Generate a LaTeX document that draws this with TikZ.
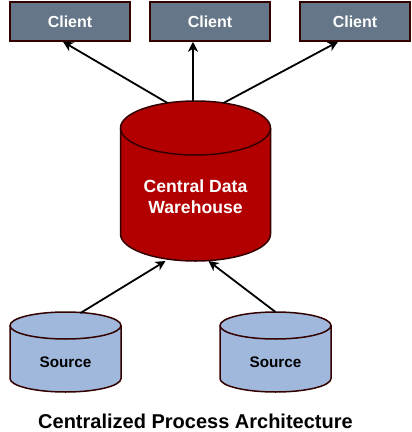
\documentclass[tikz,border=0pt]{standalone}
\usepackage{fontspec}
\setmainfont{Liberation Sans}
\usetikzlibrary{positioning, arrows.meta}
\definecolor{clientfill}{HTML}{647687}
\definecolor{darkline}{HTML}{330000}
\definecolor{dwfill}{HTML}{B20000}
\definecolor{srcfill}{HTML}{A0B8DC}
% drum: node name, y radius, x radius, fill
\newcommand{\drum}[4]{%
  \filldraw[fill=#4, draw=darkline, line width=1.5pt]
    ([yshift=-#2]#1.north west) -- ([yshift=#2]#1.south west)
    arc[start angle=180, end angle=360, x radius=#3, y radius=#2]
    -- ([yshift=-#2]#1.north east)
    arc[start angle=0, end angle=180, x radius=#3, y radius=#2] -- cycle;
  \draw[darkline, line width=1.5pt] ([yshift=-#2]#1.north west)
    arc[start angle=180, end angle=360, x radius=#3, y radius=#2];
}

\begin{document}
\begin{tikzpicture}[x=1pt, y=-1pt,
  client/.style={draw=darkline, fill=clientfill, line width=1.5pt, minimum width=120pt, minimum height=39pt, inner sep=0pt, text=white, font=\fontsize{16}{19}\selectfont\bfseries},
  db/.style={inner sep=0pt, outer sep=0pt},
  dbtext/.style={font=\bfseries, align=center, inner sep=0pt},
  link/.style={-{Stealth[length=10pt, width=10pt, inset=3pt]}, line width=1.8pt}]

\useasboundingbox (0,0) rectangle (412,432);

% clients on top
\node[client] (c0) at (70,21.5) {Client};
\node[client, right=18.5pt of c0] (c1) {Client};
\node[client, minimum width=110pt, right=28.5pt of c1] (c2) {Client};

% the warehouse
\node[db, minimum width=150pt, minimum height=160pt] (w0) at (195.5,181) {};
\drum{w0}{27pt}{75pt}{dwfill}
\node[dbtext, text=white, font=\fontsize{17.6}{21}\selectfont\bfseries] (l0) at ([yshift=-15.5pt]w0.center) {Central Data\\Warehouse};

% sources
\node[db, minimum width=111pt, minimum height=80pt] (s0) at (65.5,352) {};
\node[db, minimum width=111pt, minimum height=80pt, right=99pt of s0] (s1) {};
\drum{s0}{13.5pt}{55.5pt}{srcfill}
\drum{s1}{13.5pt}{55.5pt}{srcfill}
\node[dbtext, font=\fontsize{15.3}{18}\selectfont\bfseries] (l1) at ([yshift=-10.7pt]s0.center) {Source};
\node[dbtext, font=\fontsize{15.3}{18}\selectfont\bfseries] (l2) at ([yshift=-10.7pt]s1.center) {Source};

\node[font=\fontsize{20}{24}\selectfont\bfseries] (t0) at (195.5,421.7) {Centralized Process Architecture};

\draw[link] ([shift={(-28,2)}]w0.north) -- ([xshift=-7pt]c0.south);
\draw[link] ([xshift=-2.5pt]w0.north) -- ([xshift=-17pt]c1.south);
\draw[link] ([shift={(28,2)}]w0.north) -- ([xshift=-17pt]c2.south);
\draw[link] ([shift={(15,1)}]s0.north) -- ([xshift=-30pt]w0.south);
\draw[link] (s1.north) -- ([xshift=13pt]w0.south);

\end{tikzpicture}
\end{document}
